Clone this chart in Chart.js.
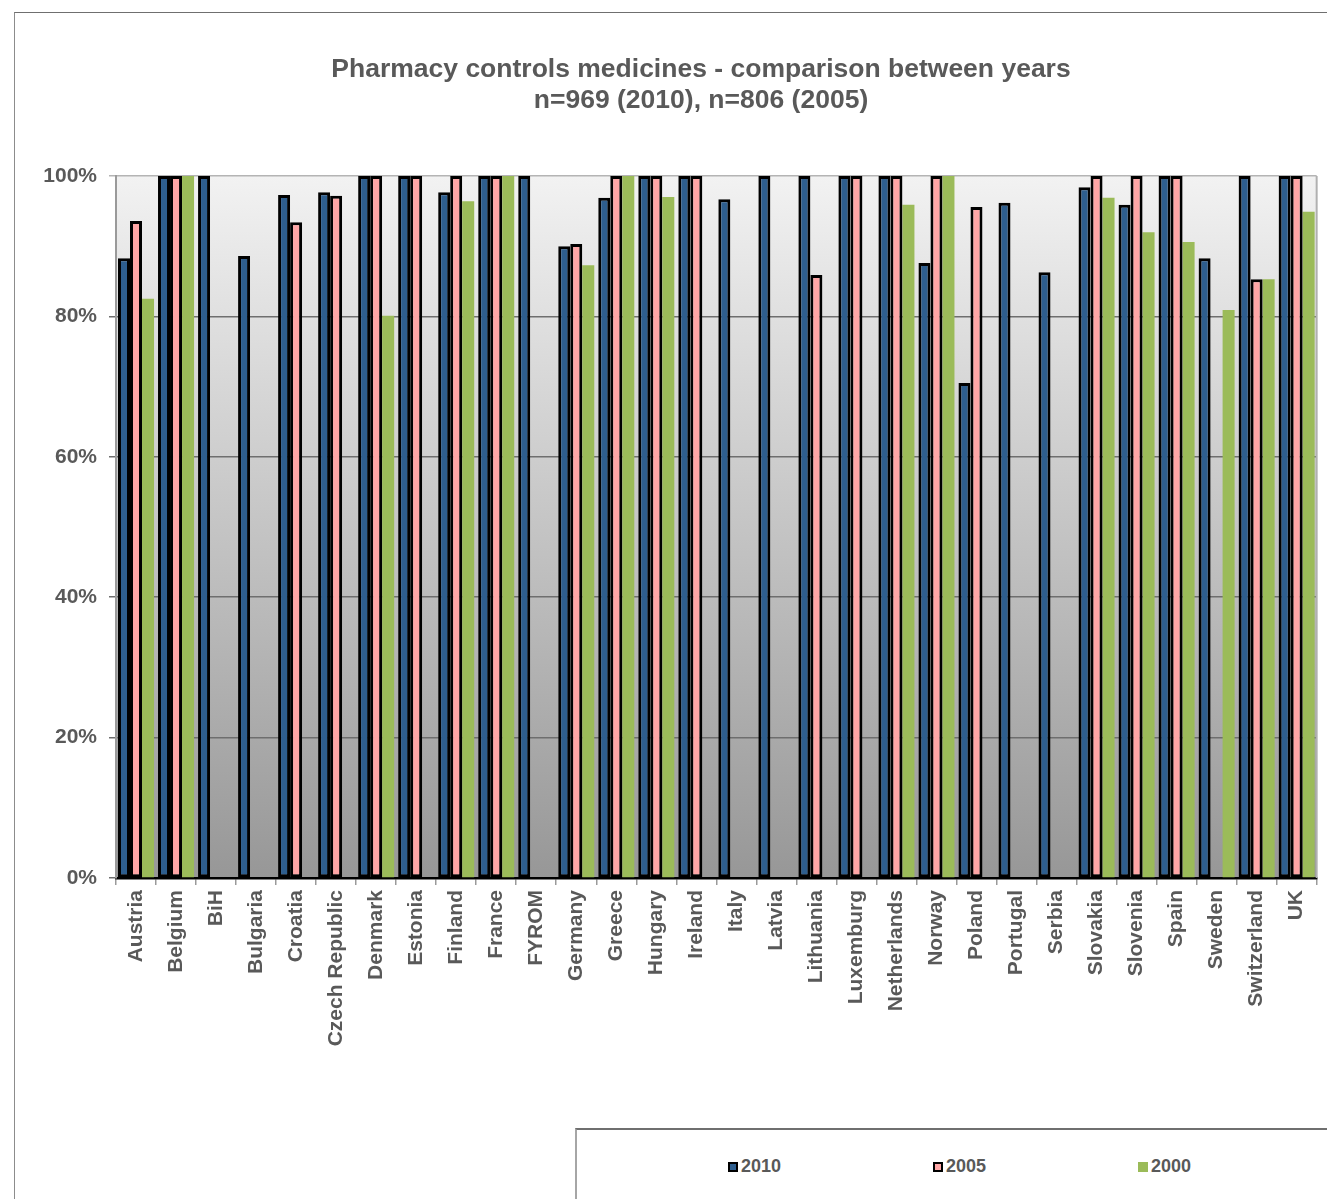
<!DOCTYPE html>
<html>
<head>
<meta charset="utf-8">
<title>Pharmacy controls medicines</title>
<script src="https://cdn.jsdelivr.net/npm/chart.js@4/dist/chart.umd.min.js"></script>
<style>
  body { margin: 0; background: #fff; font-family: "Liberation Sans", Arial, sans-serif; }
  #wrap { position: relative; width: 1327px; height: 1199px; overflow: hidden; }
  #frame { position: absolute; left: 14px; top: 12px; width: 1400px; height: 1300px; border-left: 1.5px solid #8c8c8c; border-top: 1.5px solid #6f6f6f; }
  #grafico { position: absolute; left: 0; top: 0; }
  #legenda { position: absolute; left: 575px; top: 1128px; width: 800px; height: 100px; border-left: 2px solid #a6a6a6; border-top: 2px solid #6f6f6f; background: #fff; }
  .item { position: absolute; top: 27px; font-weight: bold; font-size: 18px; color: #595959; line-height: 18px; }
  .item span { display: inline-block; width: 10px; height: 10px; box-sizing: border-box; margin-right: 3px; vertical-align: 0px; }
</style>
</head>
<body>
<div id="wrap">
  <div id="frame"></div>
  <canvas id="grafico" width="1327" height="1199"></canvas>
  <div id="legenda">
    <div class="item" style="left:151px"><span style="background:#2E5E8E;border:2.5px solid #000"></span>2010</div>
    <div class="item" style="left:356px"><span style="background:#FFA6A6;border:2.5px solid #000"></span>2005</div>
    <div class="item" style="left:561px"><span style="background:#9BBB59"></span>2000</div>
  </div>
</div>
<script>
const paises = ['Austria', 'Belgium', 'BiH', 'Bulgaria', 'Croatia', 'Czech Republic', 'Denmark', 'Estonia', 'Finland', 'France',
  'FYROM', 'Germany', 'Greece', 'Hungary', 'Ireland', 'Italy', 'Latvia', 'Lithuania', 'Luxemburg', 'Netherlands',
  'Norway', 'Poland', 'Portugal', 'Serbia', 'Slovakia', 'Slovenia', 'Spain', 'Sweden', 'Switzerland', 'UK'];

// valores em % (null = sem dado)
const ano2010 = [88.3, 100, 100, 88.6, 97.3, 97.7, 100, 100, 97.7, 100,
  100, 90.0, 96.9, 100, 100, 96.7, 100, 100, 100, 100,
  87.6, 70.5, 96.2, 86.3, 98.4, 95.9, 100, 88.3, 100, 100];
const ano2005 = [93.6, 100, null, null, 93.4, 97.2, 100, 100, 100, 100,
  null, 90.3, 100, 100, 100, null, null, 85.9, 100, 100,
  100, 95.6, null, null, 100, 100, 100, null, 85.3, 100];
const ano2000 = [82.5, 100, null, null, null, null, 80.1, null, 96.4, 100,
  null, 87.3, 100, 97.0, null, null, null, null, null, 95.9,
  100, null, null, null, 96.9, 92.0, 90.6, 80.9, 85.3, 94.9];

const ticksY = [0, 20, 40, 60, 80, 100];
const titulo = ['Pharmacy controls medicines - comparison between years', 'n=969 (2010), n=806 (2005)'];

const fonte = '"Liberation Sans", Arial, sans-serif';

// fundo em degradê e borda da área do gráfico
const fundoPlugin = {
  id: 'fundo',
  beforeDraw(chart) {
    const { ctx, chartArea: a } = chart;
    const g = ctx.createLinearGradient(0, a.top, 0, a.bottom);
    g.addColorStop(0, '#F2F2F2');
    g.addColorStop(1, '#979797');
    ctx.save();
    ctx.fillStyle = g;
    ctx.fillRect(a.left, a.top, a.right - a.left, a.bottom - a.top);
    ctx.restore();
  },
  afterDraw(chart) {
    const { ctx, chartArea: a } = chart;
    ctx.save();
    ctx.strokeStyle = '#b0b0b0';
    ctx.lineWidth = 2;
    ctx.beginPath();
    ctx.moveTo(a.right, a.top);
    ctx.lineTo(a.right, a.bottom);
    ctx.stroke();
    ctx.restore();
  }
};

// titulo desenhado a mao (o do Chart.js centraliza na largura toda)
const tituloPlugin = {
  id: 'titulo',
  afterDraw(chart) {
    const c = chart.ctx;
    c.save();
    c.fillStyle = '#595959';
    c.font = 'bold 26.5px ' + fonte;
    c.textAlign = 'center';
    c.textBaseline = 'middle';
    titulo.forEach((linha, i) => c.fillText(linha, 701, 70 + i * 31));
    c.restore();
  }
};

const ctx = document.getElementById('grafico').getContext('2d');

new Chart(ctx, {
  type: 'bar',
  data: {
    labels: paises,
    datasets: [
      { label: '2010', data: ano2010, backgroundColor: '#2E5E8E', borderColor: '#000', borderWidth: 3, borderSkipped: false },
      { label: '2005', data: ano2005, backgroundColor: '#FFA6A6', borderColor: '#000', borderWidth: 3, borderSkipped: false },
      { label: '2000', data: ano2000, backgroundColor: '#9BBB59', borderWidth: 0 }
    ]
  },
  plugins: [fundoPlugin, tituloPlugin],
  options: {
    responsive: false,
    animation: false,
    layout: { padding: { left: 0, right: 9, top: 176, bottom: 0 } },
    datasets: { bar: { categoryPercentage: 0.9, barPercentage: 1.0 } },
    plugins: {
      legend: { display: false },
      tooltip: { enabled: false },
      title: { display: false }
    },
    scales: {
      x: {
        afterFit: (s) => { s.height = 321; },
        grid: { drawOnChartArea: false, offset: true, tickLength: 7, color: '#9a9a9a', lineWidth: 1.5 },
        border: { color: '#000', width: 2.5 },
        ticks: {
          color: '#595959',
          font: { family: fonte, size: 21, weight: 'bold' },
          minRotation: 90, maxRotation: 90, autoSkip: false, padding: 5
        }
      },
      y: {
        min: 0, max: 100,
        afterFit: (s) => { s.width = 116; },
        afterBuildTicks: (s) => { s.ticks = ticksY.map(v => ({ value: v })); },
        grid: {
          tickLength: 7,
          lineWidth: 1.5,
          color: (c) => c.tick && c.tick.value === 100 ? '#b4b4b4' : '#6e6e6e'
        },
        border: { color: '#9a9a9a', width: 2 },
        ticks: {
          color: '#595959',
          padding: 12,
          font: { family: fonte, size: 21, weight: 'bold' },
          callback: (v) => v + '%'
        }
      }
    }
  }
});
</script>
</body>
</html>
